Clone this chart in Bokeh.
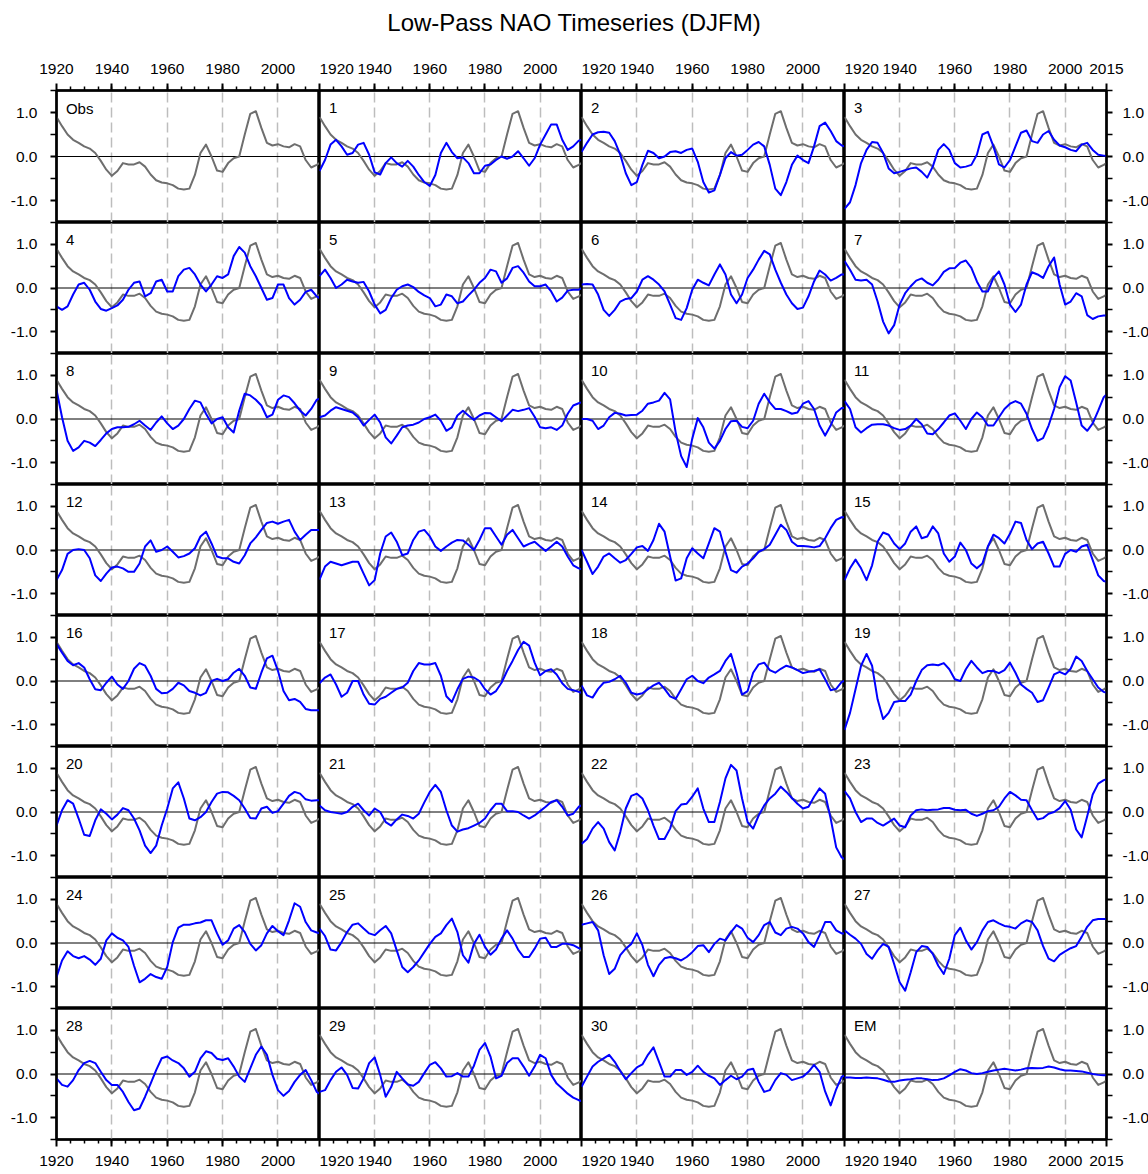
from bokeh.plotting import figure
from bokeh.layouts import gridplot, column
from bokeh.models import (FixedTicker, LinearAxis, Grid, Span, Label, Div,
                          Range1d, NumeralTickFormatter)
from bokeh.embed import file_html
from bokeh.resources import INLINE

FONT = "Liberation Sans"
TITLE = "Low-Pass NAO Timeseries (DJFM)"

# ---- axes definitions ----
YEARS = list(range(1920, 2015, 2)) + [2015]
X_MAJOR = [1920, 1940, 1960, 1980, 2000, 2015]
X_MINOR = list(range(1925, 2015, 5))
Y_MAJOR = [-1.0, 0.0, 1.0]
Y_MINOR = [-1.5, -0.5, 0.5, 1.5]
GRID_YEARS = [1940, 1960, 1980, 2000]

# ---- data ----
OBS = [0.90, 0.69, 0.50, 0.38, 0.31, 0.23, 0.18, 0.08, -0.10, -0.30,
       -0.44, -0.33, -0.15, -0.18, -0.18, -0.13, -0.23, -0.41, -0.54, -0.59,
       -0.61, -0.65, -0.73, -0.75, -0.73, -0.42, 0.08, 0.27, 0.0, -0.32,
       -0.35, -0.15, -0.04, 0.0, 0.50, 0.97, 1.03, 0.65, 0.31, 0.25,
       0.28, 0.23, 0.21, 0.28, 0.23, -0.08, -0.25, -0.19, -0.15]
M01 = [-0.33, -0.08, 0.27, 0.38, 0.23, 0.04, 0.08, 0.27, 0.31, 0.04,
       -0.36, -0.41, -0.15, -0.02, -0.15, -0.23, -0.10, -0.23, -0.42, -0.58,
       -0.67, -0.42, 0.08, 0.31, 0.10, -0.04, -0.02, -0.15, -0.38, -0.38,
       -0.21, -0.18, -0.08, 0.0, -0.05, 0.0, 0.12, -0.04, -0.21, -0.04,
       0.27, 0.50, 0.73, 0.73, 0.38, 0.15, 0.23, 0.36, 0.38]
M02 = [0.10, 0.31, 0.50, 0.55, 0.56, 0.54, 0.35, 0.04, -0.38, -0.65,
       -0.58, -0.19, 0.13, 0.08, -0.04, 0.0, 0.10, 0.12, 0.08, 0.15,
       0.18, -0.12, -0.58, -0.82, -0.77, -0.42, -0.04, 0.10, 0.02, 0.04,
       0.15, 0.27, 0.33, 0.23, -0.19, -0.73, -0.88, -0.58, -0.19, 0.02,
       -0.08, -0.15, 0.23, 0.69, 0.77, 0.58, 0.35, 0.25, 0.23]
M03 = [-1.19, -1.04, -0.65, -0.15, 0.15, 0.33, 0.31, 0.08, -0.27, -0.38,
       -0.35, -0.31, -0.27, -0.25, -0.35, -0.48, -0.23, 0.15, 0.28, 0.15,
       -0.15, -0.25, -0.23, -0.19, 0.04, 0.50, 0.56, 0.23, -0.18, -0.25,
       -0.08, 0.23, 0.54, 0.59, 0.35, 0.31, 0.50, 0.58, 0.38, 0.25,
       0.21, 0.15, 0.12, 0.27, 0.31, 0.15, 0.04, 0.02, 0.01]
M04 = [-0.42, -0.50, -0.42, -0.15, 0.08, 0.12, -0.04, -0.31, -0.48, -0.52,
       -0.46, -0.40, -0.27, -0.04, 0.12, 0.15, -0.19, -0.12, 0.15, 0.19,
       -0.08, -0.08, 0.27, 0.42, 0.46, 0.31, 0.08, -0.08, 0.08, 0.27,
       0.23, 0.31, 0.73, 0.94, 0.81, 0.50, 0.27, 0.0, -0.27, -0.23,
       0.08, 0.08, -0.23, -0.38, -0.27, -0.09, -0.04, -0.19, -0.23]
M05 = [0.27, 0.42, 0.23, 0.0, 0.08, 0.19, 0.15, 0.12, 0.14, -0.08,
       -0.38, -0.58, -0.50, -0.23, -0.04, 0.04, 0.08, 0.02, -0.09, -0.17,
       -0.23, -0.42, -0.38, -0.15, -0.19, -0.35, -0.31, -0.17, -0.04, 0.12,
       0.23, 0.42, 0.38, 0.12, 0.22, 0.46, 0.50, 0.35, 0.15, 0.04,
       0.04, 0.08, -0.08, -0.31, -0.22, -0.06, -0.04, -0.04, 0.0]
M06 = [0.08, 0.09, 0.08, -0.15, -0.50, -0.64, -0.50, -0.31, -0.25, -0.23,
       -0.08, 0.19, 0.27, 0.19, 0.08, -0.08, -0.38, -0.69, -0.73, -0.46,
       -0.04, 0.19, 0.12, 0.06, 0.31, 0.54, 0.31, -0.15, -0.35, -0.15,
       0.23, 0.42, 0.65, 0.85, 0.77, 0.42, 0.12, -0.15, -0.35, -0.48,
       -0.45, -0.19, 0.15, 0.40, 0.31, 0.17, 0.23, 0.31, 0.31]
M07 = [0.62, 0.42, 0.19, 0.17, 0.19, 0.08, -0.31, -0.77, -1.04, -0.85,
       -0.38, -0.12, 0.04, 0.17, 0.22, 0.12, 0.06, 0.19, 0.37, 0.45,
       0.46, 0.58, 0.63, 0.46, 0.15, -0.08, -0.08, 0.23, 0.38, 0.08,
       -0.38, -0.55, -0.38, 0.08, 0.36, 0.31, 0.23, 0.50, 0.70, 0.08,
       -0.38, -0.31, -0.12, -0.19, -0.62, -0.71, -0.65, -0.63, -0.63]
M08 = [0.67, 0.04, -0.50, -0.73, -0.65, -0.50, -0.54, -0.62, -0.48, -0.33,
       -0.23, -0.19, -0.19, -0.18, -0.12, -0.04, -0.15, -0.25, -0.08, 0.06,
       -0.10, -0.23, -0.15, 0.0, 0.23, 0.42, 0.38, 0.12, -0.10, 0.0,
       0.04, -0.19, -0.31, 0.19, 0.58, 0.54, 0.44, 0.31, 0.04, 0.10,
       0.44, 0.54, 0.50, 0.36, 0.19, 0.08, 0.23, 0.44, 0.46]
M09 = [0.04, 0.08, 0.19, 0.27, 0.23, 0.19, 0.15, 0.04, -0.15, -0.02,
       0.10, -0.08, -0.42, -0.56, -0.38, -0.19, -0.15, -0.13, -0.08, 0.0,
       0.04, 0.10, -0.04, -0.27, -0.19, 0.08, 0.19, 0.08, -0.02, 0.08,
       0.14, 0.13, 0.04, -0.05, 0.08, 0.21, 0.18, 0.21, 0.25, 0.05,
       -0.19, -0.21, -0.19, -0.25, -0.15, 0.12, 0.31, 0.36, 0.38]
M10 = [0.0, 0.0, -0.04, -0.23, -0.15, 0.04, 0.14, 0.12, 0.08, 0.09,
       0.10, 0.19, 0.35, 0.38, 0.42, 0.60, 0.45, -0.30, -0.85, -1.10,
       -0.45, 0.02, -0.19, -0.54, -0.68, -0.50, -0.23, -0.05, -0.04, -0.18,
       -0.21, -0.04, 0.35, 0.58, 0.38, 0.23, 0.23, 0.18, 0.12, 0.15,
       0.35, 0.41, 0.23, -0.15, -0.38, -0.15, 0.15, 0.25, 0.25]
M11 = [0.41, 0.23, -0.19, -0.31, -0.21, -0.13, -0.12, -0.12, -0.15, -0.21,
       -0.25, -0.23, -0.15, 0.0, -0.12, -0.33, -0.35, -0.23, -0.08, 0.08,
       0.13, -0.04, -0.23, 0.0, 0.15, 0.04, -0.15, -0.15, 0.04, 0.23,
       0.35, 0.41, 0.35, 0.12, -0.23, -0.50, -0.44, -0.15, 0.23, 0.73,
       0.98, 0.88, 0.38, -0.15, -0.27, -0.10, 0.19, 0.50, 0.56]
M12 = [-0.69, -0.46, -0.09, 0.0, 0.02, 0.0, -0.19, -0.58, -0.71, -0.54,
       -0.40, -0.38, -0.42, -0.50, -0.50, -0.31, 0.08, 0.22, -0.04, 0.0,
       0.08, -0.04, -0.17, -0.14, -0.08, 0.04, 0.31, 0.42, 0.15, -0.15,
       -0.19, -0.19, -0.27, -0.31, -0.12, 0.15, 0.29, 0.46, 0.62, 0.65,
       0.60, 0.65, 0.69, 0.42, 0.23, 0.35, 0.46, 0.46, 0.46]
M13 = [-0.68, -0.38, -0.27, -0.31, -0.35, -0.31, -0.27, -0.27, -0.54, -0.81,
       -0.69, -0.08, 0.31, 0.40, 0.19, -0.12, -0.08, 0.23, 0.42, 0.46,
       0.31, 0.08, -0.02, 0.08, 0.17, 0.23, 0.22, 0.12, 0.0, 0.23,
       0.50, 0.50, 0.31, 0.12, 0.35, 0.46, 0.27, 0.08, 0.14, 0.19,
       0.08, -0.02, 0.08, 0.19, 0.08, -0.15, -0.35, -0.42, -0.44]
M14 = [0.0, -0.27, -0.55, -0.38, -0.15, -0.08, -0.19, -0.29, -0.23, -0.09,
       0.06, 0.09, -0.02, 0.23, 0.60, 0.42, -0.15, -0.70, -0.65, -0.19,
       0.04, -0.08, -0.19, 0.15, 0.50, 0.42, -0.04, -0.46, -0.52, -0.38,
       -0.31, -0.19, -0.04, 0.02, 0.12, 0.35, 0.58, 0.46, 0.19, 0.09,
       0.09, 0.08, 0.06, 0.09, 0.27, 0.50, 0.69, 0.75, 0.75]
M15 = [-0.69, -0.42, -0.22, -0.42, -0.69, -0.35, 0.19, 0.40, 0.35, 0.15,
       0.02, 0.15, 0.42, 0.54, 0.27, 0.31, 0.54, 0.38, -0.08, -0.27,
       -0.15, 0.17, 0.0, -0.31, -0.42, -0.31, 0.08, 0.35, 0.27, 0.15,
       0.37, 0.65, 0.62, 0.23, 0.02, 0.15, 0.19, -0.08, -0.38, -0.38,
       -0.09, 0.0, -0.04, 0.08, 0.12, -0.23, -0.58, -0.71, -0.73]
M16 = [0.85, 0.65, 0.46, 0.36, 0.41, 0.31, 0.04, -0.19, -0.21, -0.04,
       0.10, -0.08, -0.18, 0.0, 0.28, 0.41, 0.35, 0.12, -0.18, -0.28,
       -0.27, -0.18, -0.04, -0.10, -0.23, -0.27, -0.33, -0.27, 0.0, 0.05,
       0.0, 0.04, 0.19, 0.28, 0.12, -0.15, -0.18, 0.19, 0.52, 0.58,
       0.23, -0.23, -0.44, -0.41, -0.48, -0.64, -0.67, -0.67, -0.67]
M17 = [-0.05, 0.08, 0.15, -0.08, -0.36, -0.27, 0.0, 0.0, -0.31, -0.52,
       -0.54, -0.41, -0.36, -0.27, -0.18, -0.15, -0.04, 0.23, 0.41, 0.38,
       0.38, 0.41, 0.12, -0.35, -0.48, -0.19, 0.05, 0.10, 0.08, 0.0,
       -0.19, -0.31, -0.23, -0.04, 0.23, 0.46, 0.71, 0.90, 0.81, 0.42,
       0.13, 0.23, 0.27, 0.15, -0.05, -0.18, -0.21, -0.25, -0.27]
M18 = [-0.10, -0.33, -0.38, -0.18, -0.04, -0.02, 0.04, 0.12, -0.04, -0.27,
       -0.31, -0.28, -0.19, -0.10, -0.04, -0.18, -0.35, -0.41, -0.19, 0.04,
       0.12, 0.0, -0.05, 0.08, 0.15, 0.23, 0.46, 0.62, 0.19, -0.31,
       -0.23, 0.19, 0.38, 0.42, 0.25, 0.19, 0.28, 0.35, 0.31, 0.25,
       0.18, 0.21, 0.23, 0.27, 0.04, -0.21, -0.18, -0.02, 0.0]
M19 = [-1.12, -0.73, -0.19, 0.35, 0.62, 0.35, -0.42, -0.87, -0.73, -0.48,
       -0.46, -0.46, -0.31, 0.0, 0.25, 0.36, 0.38, 0.36, 0.41, 0.27,
       0.04, 0.0, 0.27, 0.46, 0.31, 0.18, 0.23, 0.23, 0.18, 0.25,
       0.42, 0.19, -0.08, -0.18, -0.27, -0.48, -0.44, -0.15, 0.15, 0.21,
       0.15, 0.28, 0.56, 0.46, 0.23, 0.04, -0.15, -0.25, -0.27]
M20 = [-0.31, 0.04, 0.27, 0.19, -0.15, -0.52, -0.55, -0.19, 0.06, -0.04,
       -0.17, -0.06, 0.09, 0.04, -0.15, -0.42, -0.77, -0.94, -0.77, -0.31,
       0.08, 0.54, 0.68, 0.31, -0.15, -0.19, -0.12, 0.0, 0.23, 0.42,
       0.46, 0.45, 0.37, 0.27, 0.08, -0.14, -0.15, 0.08, 0.12, -0.02,
       0.02, 0.19, 0.37, 0.46, 0.42, 0.29, 0.26, 0.27, 0.27]
M21 = [0.15, 0.04, 0.0, -0.02, -0.04, 0.0, 0.12, 0.19, 0.04, -0.08,
       0.08, 0.0, -0.23, -0.31, -0.17, -0.06, -0.09, -0.15, -0.04, 0.22,
       0.46, 0.62, 0.46, 0.04, -0.31, -0.45, -0.40, -0.37, -0.31, -0.25,
       -0.15, 0.04, 0.19, 0.19, 0.02, 0.02, 0.0, -0.08, -0.15, -0.08,
       0.02, 0.12, 0.23, 0.27, 0.12, -0.08, -0.04, 0.12, 0.15]
M22 = [-0.73, -0.62, -0.38, -0.23, -0.38, -0.69, -0.88, -0.46, 0.08, 0.37,
       0.42, 0.31, 0.04, -0.31, -0.62, -0.62, -0.38, 0.02, 0.17, 0.19,
       0.35, 0.54, 0.08, -0.23, -0.23, 0.23, 0.77, 1.08, 0.95, 0.31,
       -0.23, -0.38, -0.08, 0.15, 0.31, 0.42, 0.58, 0.46, 0.32, 0.19,
       0.08, 0.12, 0.35, 0.54, 0.42, -0.15, -0.81, -1.04, -1.08]
M23 = [0.48, 0.31, 0.0, -0.23, -0.15, -0.15, -0.25, -0.31, -0.23, -0.15,
       -0.31, -0.35, -0.08, 0.04, 0.06, 0.04, 0.05, 0.06, 0.09, 0.09,
       0.05, 0.04, 0.05, -0.04, -0.09, -0.04, 0.02, 0.04, 0.12, 0.31,
       0.46, 0.38, 0.28, 0.27, 0.04, -0.17, -0.14, -0.04, 0.0, 0.09,
       0.25, 0.05, -0.40, -0.58, -0.10, 0.40, 0.65, 0.73, 0.75]
M24 = [-0.78, -0.40, -0.19, -0.30, -0.35, -0.30, -0.38, -0.50, -0.36, 0.06,
       0.22, 0.12, 0.06, -0.09, -0.52, -0.90, -0.82, -0.71, -0.78, -0.82,
       -0.55, 0.02, 0.35, 0.42, 0.42, 0.45, 0.47, 0.52, 0.52, 0.22,
       -0.04, 0.06, 0.33, 0.41, 0.25, -0.02, -0.17, -0.05, 0.22, 0.39,
       0.27, 0.18, 0.52, 0.91, 0.83, 0.48, 0.29, 0.24, 0.23]
M25 = [0.33, 0.16, -0.15, -0.17, 0.02, 0.25, 0.42, 0.45, 0.33, 0.22,
       0.18, 0.29, 0.39, 0.22, -0.17, -0.55, -0.67, -0.55, -0.40, -0.21,
       -0.02, 0.14, 0.22, 0.41, 0.56, 0.25, -0.28, -0.45, -0.02, 0.19,
       -0.09, -0.27, -0.15, 0.10, 0.29, 0.10, -0.15, -0.32, -0.32, -0.13,
       0.10, 0.12, -0.09, -0.09, -0.02, -0.02, -0.05, -0.12, -0.13]
M26 = [0.42, 0.45, 0.48, 0.29, -0.28, -0.71, -0.59, -0.28, -0.13, -0.02,
       0.22, -0.05, -0.50, -0.76, -0.50, -0.35, -0.32, -0.35, -0.40, -0.32,
       -0.21, -0.07, -0.05, -0.21, -0.02, 0.10, 0.06, 0.25, 0.41, 0.33,
       0.12, 0.02, 0.18, 0.41, 0.48, 0.24, 0.18, 0.33, 0.37, 0.33,
       0.22, 0.02, -0.09, 0.18, 0.48, 0.48, 0.29, 0.22, 0.22]
M27 = [0.29, 0.19, 0.10, -0.02, -0.25, -0.36, -0.17, -0.02, -0.09, -0.48,
       -0.90, -1.09, -0.67, -0.21, -0.07, -0.09, -0.25, -0.52, -0.71, -0.36,
       0.18, 0.35, 0.06, -0.15, 0.02, 0.29, 0.48, 0.52, 0.45, 0.39,
       0.37, 0.33, 0.45, 0.52, 0.48, 0.29, -0.07, -0.36, -0.42, -0.27,
       -0.19, -0.12, -0.07, 0.14, 0.37, 0.52, 0.55, 0.55, 0.55]
M28 = [-0.10, -0.25, -0.29, -0.14, 0.09, 0.25, 0.30, 0.25, 0.05, -0.14,
       -0.25, -0.25, -0.41, -0.64, -0.83, -0.79, -0.52, -0.22, 0.09, 0.36,
       0.40, 0.31, 0.25, 0.13, -0.06, 0.05, 0.36, 0.52, 0.48, 0.35,
       0.32, 0.36, 0.17, -0.06, -0.18, 0.13, 0.44, 0.63, 0.44, -0.02,
       -0.37, -0.50, -0.39, -0.18, -0.02, 0.09, -0.14, -0.41, -0.45]
M29 = [-0.41, -0.37, -0.14, 0.05, 0.15, -0.02, -0.32, -0.33, -0.10, 0.25,
       0.38, -0.02, -0.52, -0.30, 0.05, -0.10, -0.24, -0.27, -0.18, 0.02,
       0.21, 0.27, 0.13, -0.06, -0.05, 0.02, -0.06, -0.06, 0.19, 0.55,
       0.71, 0.40, -0.10, -0.04, 0.25, 0.36, 0.36, 0.17, -0.04, 0.17,
       0.44, 0.36, -0.02, -0.22, -0.33, -0.45, -0.54, -0.60, -0.62]
M30 = [-0.29, -0.06, 0.17, 0.28, 0.36, 0.44, 0.28, 0.07, -0.12, 0.02,
       0.15, 0.22, 0.44, 0.61, 0.28, -0.06, -0.06, 0.09, 0.09, -0.02,
       0.05, 0.19, 0.05, -0.04, -0.10, -0.25, -0.14, -0.04, -0.12, -0.06,
       0.09, 0.12, -0.18, -0.41, -0.37, -0.14, 0.02, -0.02, -0.14, -0.10,
       -0.06, 0.05, 0.21, 0.05, -0.40, -0.72, -0.35, -0.06, -0.04]
EM = [-0.08, -0.08, -0.09, -0.09, -0.08, -0.09, -0.10, -0.13, -0.17, -0.18,
      -0.15, -0.13, -0.12, -0.10, -0.10, -0.12, -0.14, -0.13, -0.10, -0.03,
      0.05, 0.11, 0.08, 0.02, 0.0, 0.02, 0.05, 0.08, 0.10, 0.12,
      0.10, 0.08, 0.10, 0.13, 0.14, 0.13, 0.14, 0.17, 0.15, 0.11,
      0.08, 0.08, 0.07, 0.06, 0.03, 0.0, -0.02, -0.03, -0.03]

PANEL_LABELS = ["Obs"] + [str(i) for i in range(1, 31)] + ["EM"]
PANEL_SERIES = [None, M01, M02, M03, M04, M05, M06, M07, M08, M09, M10,
                M11, M12, M13, M14, M15, M16, M17, M18, M19, M20,
                M21, M22, M23, M24, M25, M26, M27, M28, M29, M30, EM]

# ---- layout ----
NCOL, NROW = 4, 8
FRAME_W = [263, 262, 263, 262]
FRAME_H = [132, 131, 131, 131, 131, 131, 131, 131]
GRAY = "#6e6e6e"
BLUE = "#0000ff"


def style_x_axis(ax, col, side):
    ax.ticker = FixedTicker(ticks=X_MAJOR, minor_ticks=X_MINOR)
    if col < NCOL - 1:
        ax.major_label_overrides = {2015: ""}
    ax.axis_line_width = 2
    ax.axis_line_color = "black"
    ax.major_tick_in = 0
    ax.major_tick_out = 7
    ax.minor_tick_in = 0
    ax.minor_tick_out = 4
    ax.major_tick_line_width = 2
    ax.minor_tick_line_width = 1.5
    ax.major_label_standoff = 10 if side == "above" else 9
    ax.major_label_text_font = FONT
    ax.major_label_text_font_size = "15.5px"
    ax.major_label_text_color = "black"


def style_y_axis(ax, side):
    ax.ticker = FixedTicker(ticks=Y_MAJOR, minor_ticks=Y_MINOR)
    ax.formatter = NumeralTickFormatter(format="0.0")
    ax.axis_line_width = 2
    ax.axis_line_color = "black"
    ax.major_tick_in = 0
    ax.major_tick_out = 6
    ax.minor_tick_in = 0
    ax.minor_tick_out = 6
    ax.major_tick_line_width = 2
    ax.minor_tick_line_width = 1.5
    ax.major_label_standoff = 13 if side == "left" else 10
    ax.major_label_text_font = FONT
    ax.major_label_text_font_size = "15.5px"
    ax.major_label_text_color = "black"


rows = []
for r in range(NROW):
    row = []
    for c in range(NCOL):
        k = r * NCOL + c
        p = figure(frame_width=FRAME_W[c], frame_height=FRAME_H[r],
                   x_range=Range1d(1920, 2015), y_range=Range1d(-1.5, 1.5),
                   output_backend="svg", toolbar_location=None, tools="",
                   x_axis_location=None, y_axis_location=None,
                   min_border_left=56 if c == 0 else 0,
                   min_border_right=42 if c == NCOL - 1 else 0,
                   min_border_top=36 if r == 0 else 0,
                   min_border_bottom=33 if r == NROW - 1 else 0,
                   background_fill_color="white", border_fill_color="white")
        p.outline_line_color = "black"
        p.outline_line_width = 2.5
        p.grid.visible = False

        vgrid = Grid(dimension=0, ticker=FixedTicker(ticks=GRID_YEARS),
                     grid_line_color="#bdbdbd", grid_line_width=1.5,
                     grid_line_dash="10 5")
        p.add_layout(vgrid)
        p.add_layout(Span(location=0, dimension="width", line_color="black",
                          line_width=1, level="underlay"))

        if r == 0:
            ax = LinearAxis()
            style_x_axis(ax, c, "above")
            p.add_layout(ax, "above")
        if r == NROW - 1:
            ax = LinearAxis()
            style_x_axis(ax, c, "below")
            p.add_layout(ax, "below")
        if c == 0:
            ay = LinearAxis()
            style_y_axis(ay, "left")
            p.add_layout(ay, "left")
        if c == NCOL - 1:
            ay = LinearAxis()
            style_y_axis(ay, "right")
            p.add_layout(ay, "right")

        p.line(YEARS, OBS, line_color=GRAY, line_width=2, line_join="round")
        series = PANEL_SERIES[k]
        if series is not None:
            p.line(YEARS, series, line_color=BLUE, line_width=2,
                   line_join="round")

        p.add_layout(Label(x=1923.4, y=1.1, text=PANEL_LABELS[k],
                           text_font=FONT, text_font_size="15px",
                           text_color="black", text_baseline="middle",
                           text_align="left"))
        row.append(p)
    rows.append(row)

grid = gridplot(rows, toolbar_location=None)

title = Div(text=TITLE, width=1148, height=54, margin=(0, 0, 0, 0),
            styles={"text-align": "center", "font-size": "24px",
                    "font-family": FONT, "line-height": "46px",
                    "color": "black", "width": "1148px"})

layout = column(title, grid)

open("out.html", "w").write(file_html(layout, INLINE, title=TITLE))
